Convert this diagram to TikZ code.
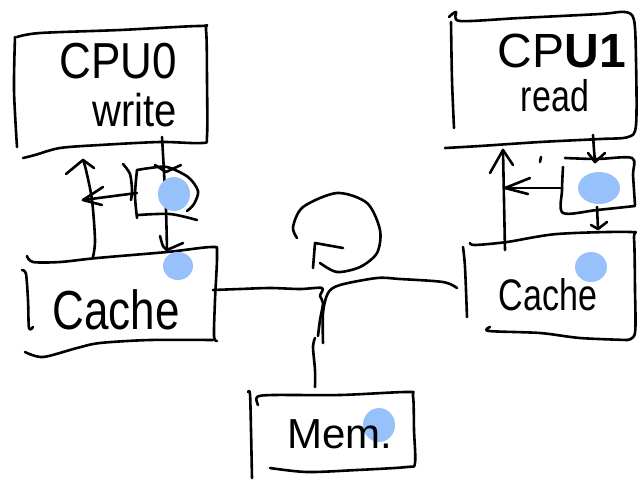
\documentclass[tikz,border=0pt]{standalone}
\usepackage{fontspec}
\setmainfont{Liberation Sans}
\definecolor{marker}{HTML}{96C1FA}
\begin{document}
\begin{tikzpicture}[x=1pt,y=-1pt,
  pen/.style={line width=2.6pt, line cap=round, line join=round},
  blob/.style={fill=marker, draw=none},
  lbl/.style={anchor=base, inner sep=0pt}]
\useasboundingbox (0,0) rectangle (644,480);
\fill[white] (0,0) rectangle (644,480);

% ---------- CPU0 ----------
\draw[pen] plot[smooth] coordinates {(17,37) (40,33) (120,30) (200,26) (206,30) (207,80) (207,136) (202,143) (160,142) (100,145) (60,148) (35,155) (23,158)};
\draw[pen] plot[smooth] coordinates {(15,37) (14,90) (17,147)};
\node[lbl, font=\fontsize{44}{44}\selectfont] (cpu0) at (118,78) {\scalebox{1}[1.15]{CPU0}};
\node[lbl, font=\fontsize{40}{40}\selectfont] (cpu0op) at (135,126) {\scalebox{1}[1.15]{write}};

% ---------- CPU1 ----------
\draw[pen] plot[smooth] coordinates {(449,17) (456,12) (460,21) (520,18) (600,14) (625,12) (634,20) (636,60) (636,125) (628,137) (600,139) (540,142) (480,146) (445,148)};
\draw[pen] plot[smooth] coordinates {(451,22) (452,80) (454,128)};
\node[lbl, font=\fontsize{48}{48}\selectfont] (cpu1) at (562,67) {CP\textbf{U1}};
\node[lbl, font=\fontsize{34}{34}\selectfont] (cpu1op) at (555,111) {\scalebox{1}[1.3]{read}};

% ---------- left store buffer ----------
\draw[pen] plot[smooth] coordinates {(123,164) (130,174) (132,190) (131,200)};
\draw[pen] plot[smooth] coordinates {(137,170) (135,195) (137,218)};
\draw[pen] plot[smooth] coordinates {(137,170) (150,168) (167,167) (188,177) (198,191) (194,204) (187,211)};
\draw[pen] plot[smooth] coordinates {(138,215) (170,214) (197,220)};

% ---------- right store buffer ----------
\draw[pen] plot[smooth] coordinates {(565,158) (597,159) (632,158) (633,175) (635,205)};
\draw[pen] plot[smooth] coordinates {(563,167) (562,190) (563,213) (597,210) (635,206)};

% ---------- caches ----------
\draw[pen] plot[smooth] coordinates {(27,256) (33,262) (60,262) (97,258) (167,252) (212,247) (217,253) (215,300) (214,336) (217,341)};
\draw[pen] plot[smooth] coordinates {(25,352) (43,357) (77,348) (100,343) (150,340) (213,340)};
\draw[pen] plot[smooth] coordinates {(22,270) (26,274) (28,300) (29,328) (33,327)};
\node[lbl, font=\fontsize{44}{44}\selectfont] (cacheL) at (116,329) {\scalebox{1}[1.25]{Cache}};

\draw[pen] plot[smooth] coordinates {(470,243) (475,245) (507,242) (557,234) (630,232) (634,238) (635,290) (635,333) (627,340)};
\draw[pen] plot[smooth] coordinates {(490,327) (489,331) (540,333) (580,338) (627,340)};
\draw[pen] plot[smooth] coordinates {(463,247) (465,267) (467,317)};
\node[lbl, font=\fontsize{34}{34}\selectfont] (cacheR) at (548,310) {\scalebox{1}[1.3]{Cache}};

% ---------- memory ----------
\draw[pen] plot[smooth] coordinates {(248,392) (250,394) (251,430) (252,478)};
\draw[pen] plot[smooth] coordinates {(258,405) (257,397) (273,395) (340,395) (407,392) (413,396) (414,430) (415,463) (407,467) (357,470) (307,472) (270,468)};

% ---------- connector end points ----------
\coordinate (c0out) at (162,137);
\coordinate (c0in) at (167,250);
\coordinate (lbufout) at (137,193);
\coordinate (lbufin) at (83,200);
\coordinate (cLup) at (93,257);
\coordinate (c0up) at (83,160);
\coordinate (c1out) at (593,135);
\coordinate (rbufin) at (595,162);
\coordinate (rbufout) at (597,207);
\coordinate (cRin) at (598,229);
\coordinate (rbufleft) at (562,188);
\coordinate (rbufhead) at (505,188);
\coordinate (cRup) at (505,250);
\coordinate (c1up) at (503,150);
\coordinate (busL) at (213,290);
\coordinate (busR) at (457,288);
\coordinate (busM) at (315,338);
\coordinate (memtop) at (315,387);

% ---------- CPU0 side arrows ----------
\draw[pen] plot[smooth] coordinates {(c0out) (164,172) (166,210) (c0in)};
\draw[pen] (155,165) -- (166,172) -- (181,165);
\draw[pen] plot[smooth] coordinates {(160,236) (163,246) (c0in)} -- (183,243);
\draw[pen] (lbufout) -- (lbufin);
\draw[pen] (103,187) -- (lbufin) -- (102,205);
\draw[pen] plot[smooth] coordinates {(cLup) (95,240) (92,200) (86,170) (c0up)};
\draw[pen] (66,174) -- (c0up) -- (94,168);

% ---------- CPU1 side arrows ----------
\draw[pen] plot[smooth] coordinates {(c1out) (594,150) (rbufin)};
\draw[pen] (588,153) -- (rbufin) -- (605,153);
\draw[pen] (rbufout) -- (cRin);
\draw[pen] (591,225) -- (cRin) -- (607,222);
\draw[pen] (rbufleft) -- (rbufhead);
\draw[pen] (530,178) -- (rbufhead) -- (528,194);
\draw[pen] plot[smooth] coordinates {(cRup) (504,200) (c1up)};
\draw[pen] (490,173) -- (c1up) -- (513,165);
\draw[pen] (541,157) -- (540,162);

% ---------- bus ----------
\draw[pen] plot[smooth] coordinates {(busL) (240,289) (270,288) (300,289) (322,288) (320,296) (323,303) (320,320) (318,336)};
\draw[pen] plot[smooth] coordinates {(busR) (443,282) (400,279) (377,278) (340,285) (328,293) (323,313) (323,343)};
\draw[pen] plot[smooth] coordinates {(busM) (313,347) (315,370) (memtop)};

% ---------- circular arrow ----------
\draw[pen] plot[smooth] coordinates {(320,263) (337,272) (360,267) (377,253) (380,230) (367,203) (337,193) (303,207) (293,227) (297,238)};
\draw[pen] (313,268) -- (315,243) -- (343,248);

% ---------- markers ----------
\fill[blob] (174,194) ellipse [x radius=16, y radius=17];
\fill[blob] (178,266) ellipse [x radius=15, y radius=14];
\fill[blob] (599,188) ellipse [x radius=21, y radius=16];
\fill[blob] (591,267) ellipse [x radius=16, y radius=15];
\fill[blob] (379,425) ellipse [x radius=16, y radius=17];
\node[lbl, font=\fontsize{42}{42}\selectfont] (mem) at (340,448) {Mem.};
\end{tikzpicture}
\end{document}
